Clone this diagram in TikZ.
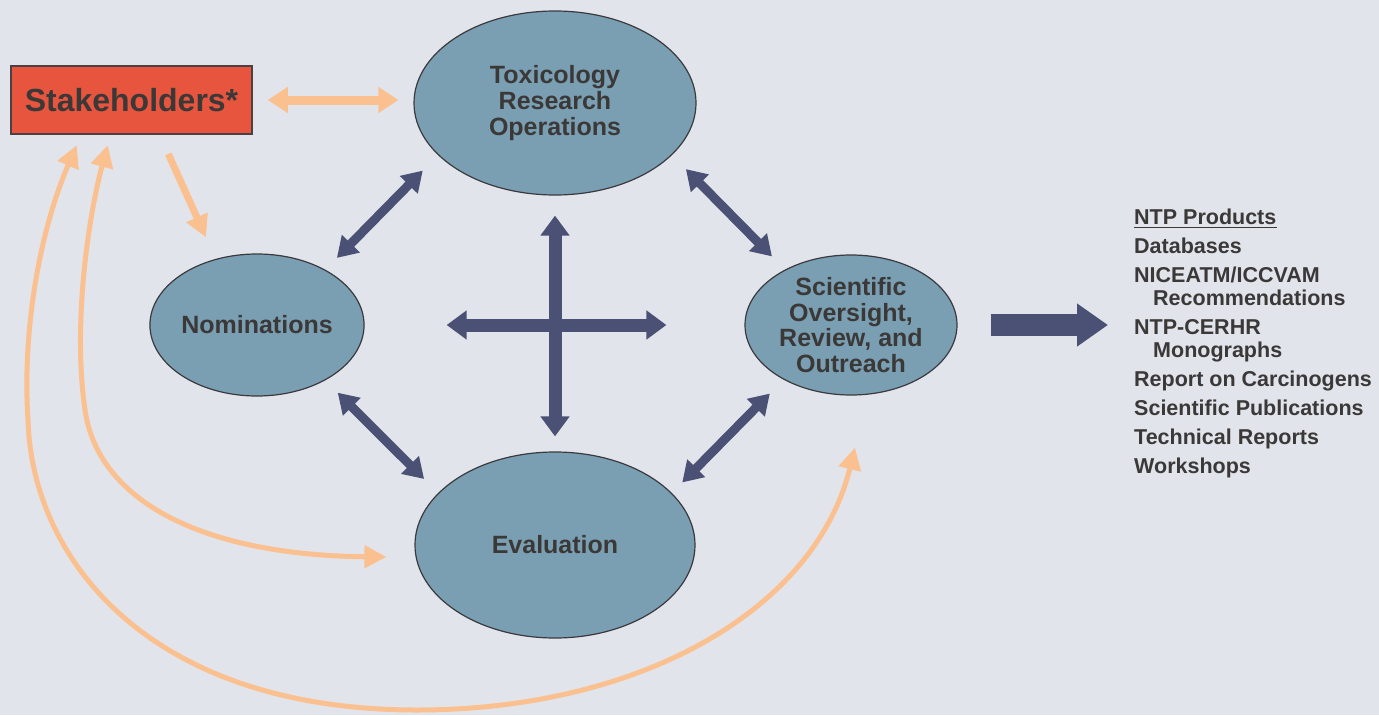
\documentclass[tikz,border=0pt]{standalone}
\usepackage{fontspec}
\setmainfont{Liberation Sans}
\usetikzlibrary{arrows.meta,shapes.geometric,calc}
\definecolor{bg}{HTML}{E2E4EB}
\definecolor{ellfill}{HTML}{7A9FB3}
\definecolor{edge}{HTML}{3A3A3E}
\definecolor{txt}{HTML}{3B3838}
\definecolor{stakered}{HTML}{E8553E}
\definecolor{boxedge}{HTML}{4A4242}
\definecolor{navy}{HTML}{4A5175}
\definecolor{peach}{HTML}{FAC08F}
\begin{document}
\begin{tikzpicture}[x=1pt,y=-1pt,
  ell/.style={ellipse, draw=edge, line width=1.2pt, fill=ellfill, inner sep=0pt,
    align=center, text=txt, font=\fontsize{25}{25.8}\selectfont\bfseries},
  stakebox/.style={rectangle, draw=boxedge, line width=1.5pt, fill=stakered,
    inner sep=0pt, text=txt, font=\fontsize{32}{36}\selectfont\bfseries},
  prod/.style={anchor=base west, inner sep=0pt, text=txt,
    font=\fontsize{21.5}{23}\selectfont\bfseries},
  navyarr/.style={draw=navy, line width=9pt,
    arrows={Triangle[width=24pt,length=20pt]-Triangle[width=24pt,length=20pt]}},
  crossarr/.style={draw=navy, line width=13pt,
    arrows={Triangle[width=28pt,length=20pt]-Triangle[width=28pt,length=20pt]}},
  bigarr/.style={draw=navy, line width=22pt,
    arrows={-Triangle[width=41pt,length=31pt]}},
  peachboth/.style={draw=peach, line width=9pt,
    arrows={Triangle[width=25pt,length=20pt]-Triangle[width=25pt,length=20pt]}},
  peachone/.style={draw=peach, line width=7pt,
    arrows={-Triangle[width=22pt,length=22pt]}},
  peachcurve/.style={draw=peach, line width=5pt,
    arrows={Triangle[width=22pt,length=22pt]-Triangle[width=22pt,length=22pt]}}
]
\fill[bg] (0,0) rectangle (1379,715);
\useasboundingbox (0,0) rectangle (1379,715);

% nodes
\node[stakebox, minimum width=241, minimum height=68] (stake) at (131.5,100) {Stakeholders*};
\node[ell, minimum width=282, minimum height=184] (tox) at (555,103) {Toxicology\\Research\\Operations};
\node[ell, minimum width=210, minimum height=142] (nom) at (257,325) {Nominations};
\node[ell, minimum width=212, minimum height=140] (sci) at (851,325) {Scientific\\Oversight,\\Review, and\\Outreach};
\node[ell, minimum width=280, minimum height=186] (eval) at (555,545) {Evaluation};

% products list
\node[prod] (ntp) at (1134,224) {NTP Products};
\draw[txt, line width=1.6pt] ($(ntp.base west)+(0,3.5)$) -- ($(ntp.base east)+(0,3.5)$);
\node[prod] (db) at (1134,253) {Databases};
\node[prod] (nic) at (1134,282) {NICEATM/ICCVAM};
\node[prod] (rec) at (1153,305) {Recommendations};
\node[prod] (cer) at (1134,334) {NTP-CERHR};
\node[prod] (mono) at (1153,357) {Monographs};
\node[prod] (roc) at (1134,386) {Report on Carcinogens};
\node[prod] (sp) at (1134,415) {Scientific Publications};
\node[prod] (tr) at (1134,444) {Technical Reports};
\node[prod] (ws) at (1134,473) {Workshops};

% navy connectors
\draw[navyarr, shorten <=21.7pt, shorten >=16.5pt] (tox.204) -- (nom.39);
\draw[navyarr, shorten <=19.7pt, shorten >=18.5pt] (tox.336) -- (sci.140);
\draw[navyarr, shorten <=17.5pt, shorten >=19.8pt] (nom.321.5) -- (eval.156);
\draw[navyarr, shorten <=19.5pt, shorten >=14.8pt] (sci.219) -- (eval.24);
\draw[crossarr, shorten <=20pt, shorten >=15pt] (tox.south) -- (eval.north);
\draw[crossarr, shorten <=82pt, shorten >=78pt] (nom.east) -- (sci.west);
\draw[bigarr, shorten <=33pt, shorten >=26pt] (sci.east) -- (sci.east -| ntp.west);

% peach connectors
\draw[peachboth, shorten <=15pt, shorten >=15pt] (stake.east) -- (stake.east -| tox.west);
\draw[peachone, shorten <=21pt, shorten >=23.5pt] (stake.-51.6) -- (nom.122);
\draw[peachcurve] ($(stake.south west)+(97.5,10.5)$) .. controls (90,210) and (72,320) .. (85,410)
  .. controls (98,500) and (200,555) .. ($(eval.west)+(-28,12)$);
\draw[peachcurve] ($(stake.south west)+(66.5,10.5)$) .. controls (40,230) and (22,330) .. (28,420)
  .. controls (32,560) and (150,710) .. (417,710)
  .. controls (640,710) and (815,610) .. ($(sci.south)+(4,52)$);
\end{tikzpicture}
\end{document}
